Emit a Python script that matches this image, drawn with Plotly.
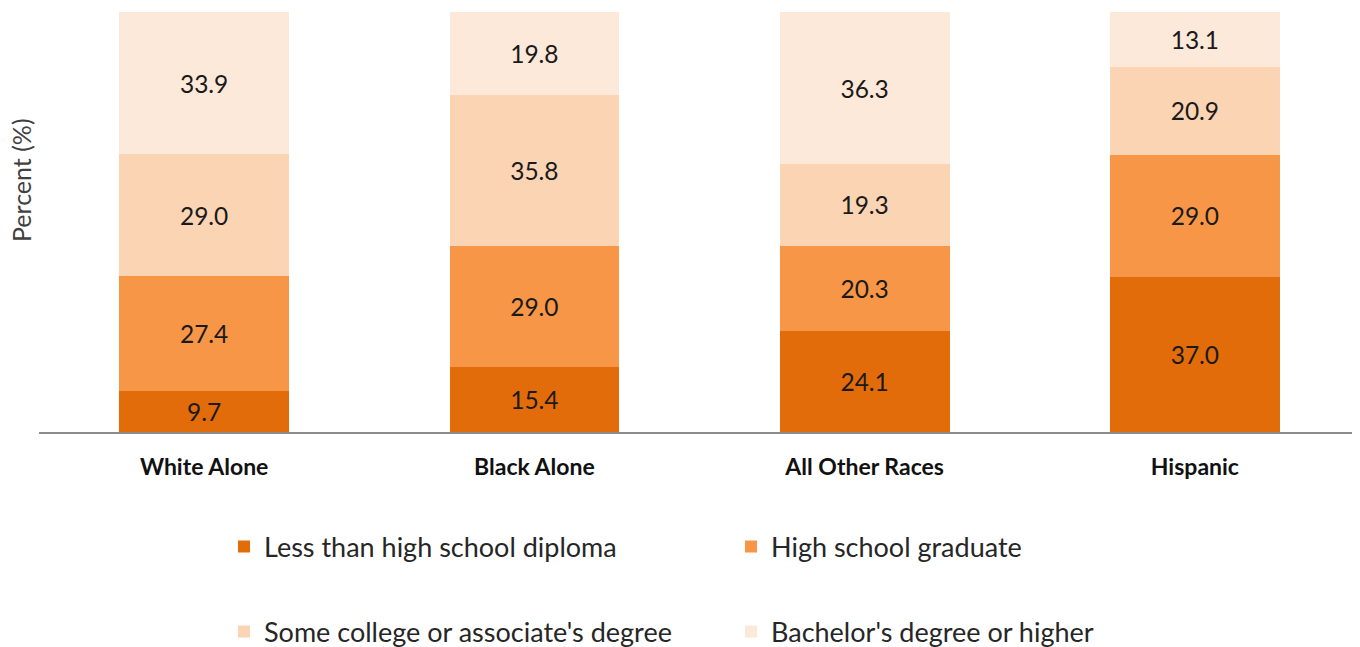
import plotly.graph_objects as go

categories = ["White Alone", "Black Alone", "All Other Races", "Hispanic"]
less_than_hs = [9.7, 15.4, 24.1, 37.0]
hs_graduate = [27.4, 29.0, 20.3, 29.0]
some_college = [29.0, 35.8, 19.3, 20.9]
bachelors = [33.9, 19.8, 36.3, 13.1]

series = [
    ("Less than high school diploma", less_than_hs, "#E36C0A", "legend"),
    ("High school graduate", hs_graduate, "#F79646", "legend"),
    ("Some college or associate's degree", some_college, "#FBD4B4", "legend2"),
    ("Bachelor's degree or higher", bachelors, "#FDE9D9", "legend2"),
]

FONT = "Lato"
fig = go.Figure()
for name, vals, color, leg in series:
    fig.add_trace(go.Bar(
        x=categories, y=vals, name=name,
        marker=dict(color=color, line=dict(width=0)),
        text=[f"{v:.1f}" for v in vals],
        textposition="inside", insidetextanchor="middle",
        textfont=dict(family=FONT, size=24.5, color="#1a1a1a"),
        textangle=0, constraintext="none",
        legend=leg,
    ))

# the page body has an 8px margin, so the figure is drawn 8px in from the top-left
OFF = 8
W, H = 1360 - OFF, 647 - OFF
L, R, T, B = 39 - OFF, 0, 12 - OFF, 647 - 432
pw = W - L - R
ph = H - T - B

def px(x):
    return (x - OFF - L) / pw

def py(y):
    return (H - B - (y - OFF)) / ph

legend_common = dict(
    orientation="h", xanchor="left", yanchor="middle",
    font=dict(family=FONT, size=27, color="#262626"),
    entrywidth=462, entrywidthmode="pixels",
    bgcolor="rgba(0,0,0,0)", traceorder="normal",
)

fig.update_layout(
    barmode="stack",
    bargap=0.486,
    width=W, height=H,
    margin=dict(l=L, r=R, t=T, b=B, autoexpand=False),
    paper_bgcolor="white", plot_bgcolor="white",
    uniformtext=dict(mode=False),
    xaxis=dict(
        showline=True, linecolor="#8c8c8c", linewidth=2,
        ticks="", showgrid=False, ticklabelstandoff=13,
        tickfont=dict(family=FONT, size=23, color="#111111", weight="bold"),
    ),
    yaxis=dict(range=[0, 100], visible=False, showgrid=False),
    legend=dict(x=px(224), y=py(547), **legend_common),
    legend2=dict(x=px(224), y=py(632), **legend_common),
    annotations=[dict(
        text="Percent (%)", textangle=-90, showarrow=False,
        xref="paper", yref="paper", x=px(21), y=py(180),
        xanchor="center", yanchor="middle",
        font=dict(family=FONT, size=25, color="#404040"),
    )],
)

fig.write_html("out.html")
